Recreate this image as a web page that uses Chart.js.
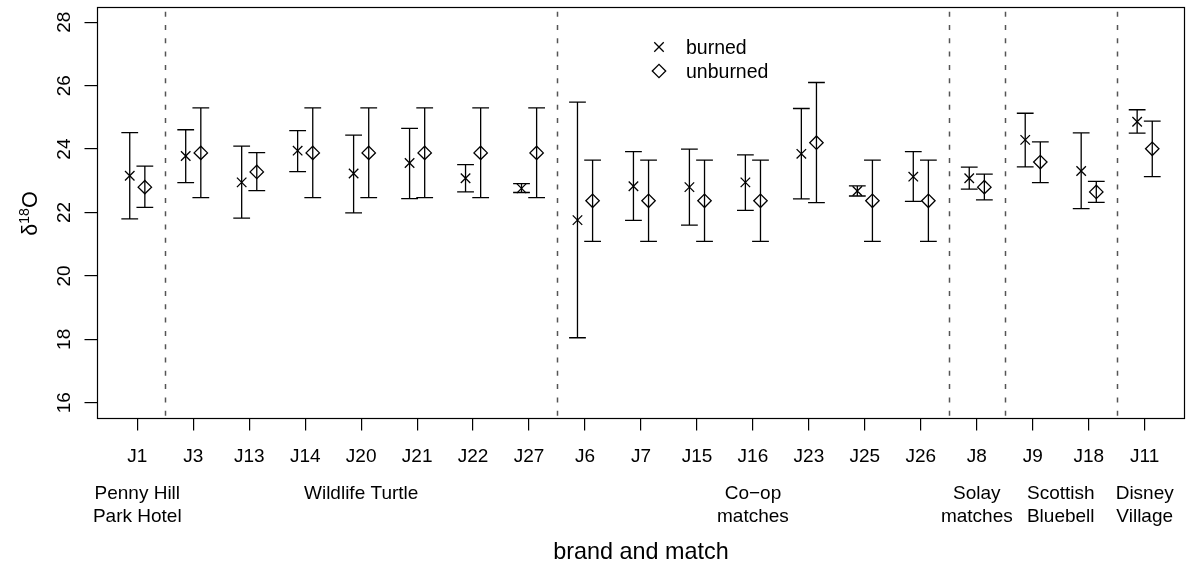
<!DOCTYPE html>
<html>
<head>
<meta charset="utf-8">
<script src="https://cdn.jsdelivr.net/npm/chart.js@4/dist/chart.umd.min.js"></script>
<style>
  html, body { margin: 0; padding: 0; background: #fff; }
  #wrap { width: 1187px; height: 564px; }
</style>
</head>
<body>
<div id="wrap"><canvas id="c" width="1187" height="564"></canvas></div>
<script>
// ---- data ----
const categories = ['J1','J3','J13','J14','J20','J21','J22','J27','J6','J7','J15','J16','J23','J25','J26','J8','J9','J18','J11'];
const burnedMean = [23.16, 23.78, 22.95, 23.95, 23.23, 23.56, 23.08, 22.76, 21.76, 22.83, 22.80, 22.95, 23.85, 22.68, 23.13, 23.08, 24.29, 23.31, 24.86];
const burnedLow  = [21.80, 22.94, 21.82, 23.29, 21.99, 22.44, 22.65, 22.63, 18.05, 21.75, 21.60, 22.07, 22.43, 22.52, 22.35, 22.74, 23.44, 22.12, 24.50];
const burnedHigh = [24.52, 24.61, 24.09, 24.58, 24.44, 24.65, 23.51, 22.91, 25.48, 23.92, 24.00, 23.82, 25.28, 22.84, 23.92, 23.43, 25.13, 24.51, 25.24];
const unburnedMean = [22.80, 23.88, 23.28, 23.88, 23.88, 23.88, 23.88, 23.88, 22.37, 22.37, 22.37, 22.37, 24.20, 22.37, 22.37, 22.80, 23.59, 22.65, 24.01];
const unburnedLow  = [22.16, 22.47, 22.69, 22.47, 22.47, 22.47, 22.47, 22.47, 21.09, 21.09, 21.09, 21.09, 22.31, 21.09, 21.09, 22.40, 22.94, 22.32, 23.13];
const unburnedHigh = [23.46, 25.30, 23.89, 25.30, 25.30, 25.30, 25.30, 25.30, 23.65, 23.65, 23.65, 23.65, 26.10, 23.65, 23.65, 23.21, 24.23, 22.98, 24.88];
const brands = [['Penny Hill','Park Hotel'], ['Wildlife Turtle'], ['Co\u2212op','matches'], ['Solay','matches'], ['Scottish','Bluebell'], ['Disney','Village']];
const brandSizes = [1, 7, 7, 1, 2, 1];
const yTicks = [16, 18, 20, 22, 24, 26, 28];
const seriesNames = ['burned', 'unburned'];

// ---- style ----
const FONT = '"Liberation Sans", Arial, Helvetica, sans-serif';
const OFF = 0.135;      // horizontal offset of the two series
const CAP = 0.15;       // half width of error-bar caps (x units)

const burnedPts = categories.map((c, i) => ({x: i + 1 - OFF, y: burnedMean[i], lo: burnedLow[i], hi: burnedHigh[i]}));
const unburnedPts = categories.map((c, i) => ({x: i + 1 + OFF, y: unburnedMean[i], lo: unburnedLow[i], hi: unburnedHigh[i]}));

const errorBars = {
  id: 'errorBars',
  beforeDatasetsDraw(chart) {
    const ctx = chart.ctx, xs = chart.scales.x, ys = chart.scales.y;
    ctx.save();
    ctx.strokeStyle = '#000';
    ctx.lineWidth = 1.3;
    chart.data.datasets.forEach(ds => {
      ds.data.forEach(p => {
        const x = xs.getPixelForValue(p.x);
        const xl = xs.getPixelForValue(p.x - CAP), xr = xs.getPixelForValue(p.x + CAP);
        const yl = ys.getPixelForValue(p.lo), yh = ys.getPixelForValue(p.hi);
        ctx.beginPath();
        ctx.moveTo(x, yl); ctx.lineTo(x, yh);
        ctx.moveTo(xl, yl); ctx.lineTo(xr, yl);
        ctx.moveTo(xl, yh); ctx.lineTo(xr, yh);
        ctx.stroke();
      });
    });
    ctx.restore();
  }
};

const decor = {
  id: 'decor',
  beforeDraw(chart) {
    const ctx = chart.ctx;
    ctx.save();
    ctx.fillStyle = '#fff';
    ctx.fillRect(0, 0, chart.width, chart.height);
    ctx.restore();
  },
  afterDraw(chart) {
    const ctx = chart.ctx, xs = chart.scales.x, ys = chart.scales.y, a = chart.chartArea;
    ctx.save();
    // group separators
    ctx.strokeStyle = '#555';
    ctx.lineWidth = 1.5;
    ctx.setLineDash([5, 8.3]);
    ctx.lineDashOffset = 8.6;
    let acc = 0;
    const centers = [];
    brandSizes.forEach((n, k) => {
      centers.push(acc + 1 + (n - 1) / 2);
      acc += n;
      if (k < brandSizes.length - 1) {
        const x = Math.round(xs.getPixelForValue(acc + 0.5)) + 0.5;
        ctx.beginPath(); ctx.moveTo(x, a.top); ctx.lineTo(x, a.bottom); ctx.stroke();
      }
    });
    ctx.setLineDash([]);
    // box
    ctx.strokeStyle = '#000';
    ctx.lineWidth = 1.2;
    ctx.strokeRect(Math.round(a.left) + 0.5, Math.round(a.top) + 0.5, Math.round(a.right - a.left) - 1, Math.round(a.bottom - a.top));
    ctx.fillStyle = '#000';
    // x tick labels
    ctx.font = '19px ' + FONT;
    ctx.textAlign = 'center';
    ctx.textBaseline = 'alphabetic';
    categories.forEach((c, i) => ctx.fillText(c, xs.getPixelForValue(i + 1), 462));
    // brand labels
    brands.forEach((lines, k) => {
      const x = xs.getPixelForValue(centers[k]);
      lines.forEach((t, j) => ctx.fillText(t, x, 498.5 + j * 23.4));
    });
    // x title
    ctx.font = '23.4px ' + FONT;
    ctx.fillText('brand and match', (a.left + a.right) / 2, 558.5);
    // y tick labels
    ctx.font = '19px ' + FONT;
    yTicks.forEach(v => {
      ctx.save();
      ctx.translate(70, ys.getPixelForValue(v));
      ctx.rotate(-Math.PI / 2);
      ctx.textAlign = 'center';
      ctx.fillText(String(v), 0, 0);
      ctx.restore();
    });
    // y title  δ^18 O
    ctx.save();
    const big = '21.5px ' + FONT, small = '14px ' + FONT;
    ctx.font = big; const w1 = ctx.measureText('\u03b4').width, w3 = ctx.measureText('O').width;
    ctx.font = small; const w2 = ctx.measureText('18').width;
    const tot = w1 + w2 + w3;
    ctx.translate(36.5, (a.top + a.bottom) / 2 + 1);
    ctx.rotate(-Math.PI / 2);
    ctx.textAlign = 'left';
    let px = -tot / 2;
    ctx.font = big; ctx.fillText('\u03b4', px, 0); px += w1;
    ctx.font = small; ctx.fillText('18', px, -7.5); px += w2;
    ctx.font = big; ctx.fillText('O', px, 0);
    ctx.restore();
    // legend
    ctx.strokeStyle = '#000';
    ctx.lineWidth = 1.3;
    const lx = 659, r = 6.7, d = r * Math.SQRT1_2;
    ctx.beginPath();
    ctx.moveTo(lx - d, 47 - d); ctx.lineTo(lx + d, 47 + d);
    ctx.moveTo(lx + d, 47 - d); ctx.lineTo(lx - d, 47 + d);
    ctx.stroke();
    ctx.beginPath();
    ctx.moveTo(lx - r, 71); ctx.lineTo(lx, 71 - r); ctx.lineTo(lx + r, 71); ctx.lineTo(lx, 71 + r); ctx.closePath();
    ctx.stroke();
    ctx.font = '19.5px ' + FONT;
    ctx.textAlign = 'left';
    ctx.fillText(seriesNames[0], 686, 54.3);
    ctx.fillText(seriesNames[1], 686, 78.3);
    ctx.restore();
  }
};

const axisCommon = {
  border: { display: false },
  ticks: { display: false },
  grid: { drawOnChartArea: false, drawTicks: true, tickLength: 12.5, color: '#000', lineWidth: 1.2 }
};

new Chart(document.getElementById('c'), {
  type: 'scatter',
  data: {
    datasets: [
      { label: seriesNames[0], data: burnedPts, pointStyle: 'crossRot', pointRadius: 6.7, borderColor: '#000', backgroundColor: 'rgba(0,0,0,0)', borderWidth: 1.3 },
      { label: seriesNames[1], data: unburnedPts, pointStyle: 'rectRot', pointRadius: 6.7, borderColor: '#000', backgroundColor: 'rgba(0,0,0,0)', borderWidth: 1.3 }
    ]
  },
  options: {
    responsive: false,
    animation: false,
    devicePixelRatio: 1,
    events: [],
    layout: { autoPadding: false, padding: { left: 0, right: 2, top: 7, bottom: 0 } },
    plugins: { legend: { display: false }, tooltip: { enabled: false } },
    scales: {
      x: Object.assign({}, axisCommon, {
        type: 'linear', min: 0.28, max: categories.length + 0.72,
        afterBuildTicks: s => { s.ticks = categories.map((c, i) => ({ value: i + 1 })); },
        afterFit: s => { s.height = 564 - 418; }
      }),
      y: Object.assign({}, axisCommon, {
        type: 'linear', min: 15.52, max: 28.48,
        afterBuildTicks: s => { s.ticks = yTicks.map(v => ({ value: v })); },
        afterFit: s => { s.width = 97; }
      })
    }
  },
  plugins: [errorBars, decor]
});
</script>
</body>
</html>
